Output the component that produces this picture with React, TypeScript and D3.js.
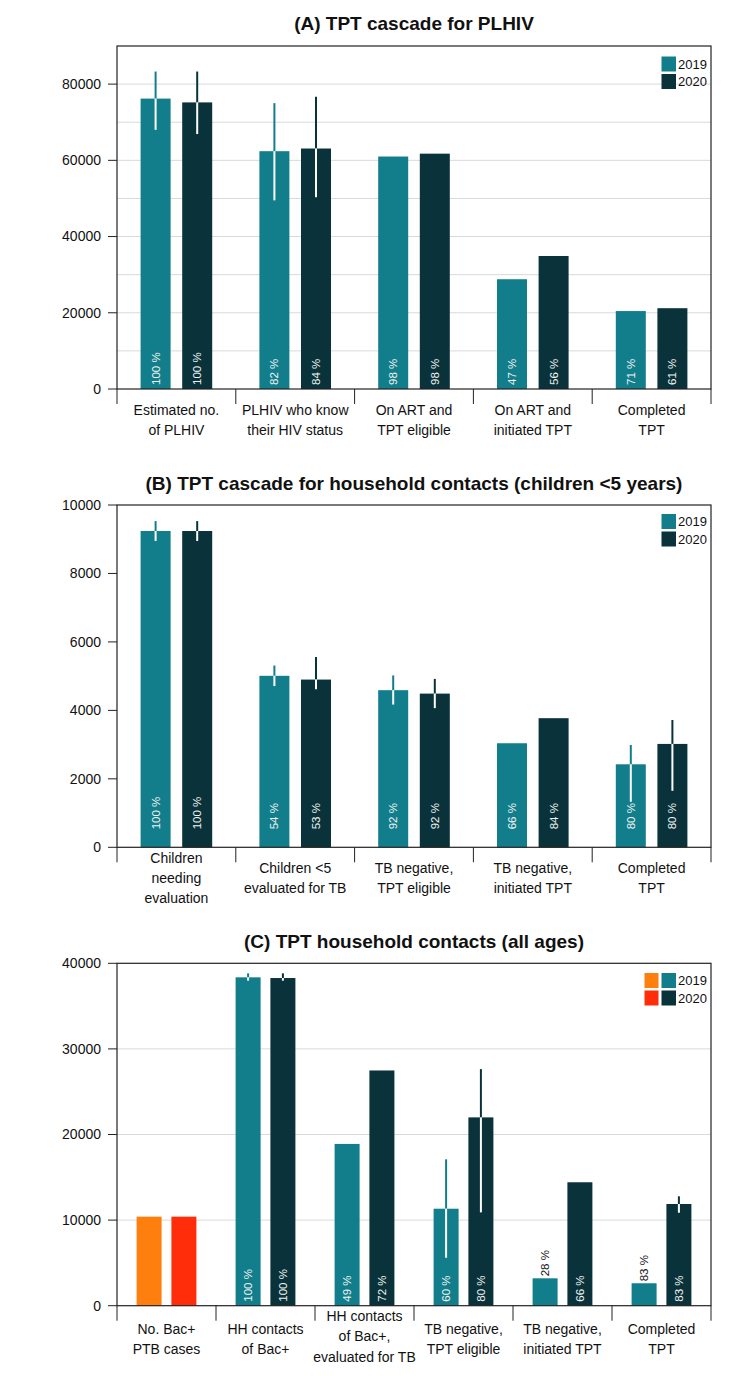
import React from "react";
import * as d3 from "d3";

// ---------- Colours ----------
const C2019 = "#127e8b";
const C2020 = "#09323a";
const CORANGE = "#ff7f0e";
const CRED = "#ff2d0a";

// ---------- Panel A data ----------
const titleA = "(A) TPT cascade for PLHIV";
const catsA = ["Estimated no.|of PLHIV", "PLHIV who know|their HIV status", "On ART and|TPT eligible", "On ART and|initiated TPT", "Completed|TPT"];
const valsA2019 = [76200, 62400, 61000, 28800, 20450];
const valsA2020 = [75200, 63100, 61750, 34900, 21200];
const errA2019: ([number, number] | null)[] = [[68000, 83300], [49500, 75000], null, null, null];
const errA2020: ([number, number] | null)[] = [[66900, 83300], [50300, 76700], null, null, null];
const pctA2019 = ["100 %", "82 %", "98 %", "47 %", "71 %"];
const pctA2020 = ["100 %", "84 %", "98 %", "56 %", "61 %"];
const ticksA = [0, 20000, 40000, 60000, 80000];
const gridA = [10000, 20000, 30000, 40000, 50000, 60000, 70000, 80000];

// ---------- Panel B data ----------
const titleB = "(B) TPT cascade for household contacts (children <5 years)";
const catsB = ["Children|needing|evaluation", "Children <5|evaluated for TB", "TB negative,|TPT eligible", "TB negative,|initiated TPT", "Completed|TPT"];
const valsB2019 = [9240, 5010, 4590, 3040, 2425];
const valsB2020 = [9240, 4900, 4490, 3772, 3020];
const errB2019: ([number, number] | null)[] = [[8950, 9530], [4710, 5310], [4170, 5020], null, [1330, 2990]];
const errB2020: ([number, number] | null)[] = [[8950, 9530], [4620, 5560], [4065, 4920], null, [1650, 3720]];
const pctB2019 = ["100 %", "54 %", "92 %", "66 %", "80 %"];
const pctB2020 = ["100 %", "53 %", "92 %", "84 %", "80 %"];
const ticksB = [0, 2000, 4000, 6000, 8000, 10000];
const gridB: number[] = [];

// ---------- Panel C data ----------
const titleC = "(C) TPT household contacts (all ages)";
const catsC = ["No. Bac+|PTB cases", "HH contacts|of Bac+", "HH contacts|of Bac+,|evaluated for TB", "TB negative,|TPT eligible", "TB negative,|initiated TPT", "Completed|TPT"];
const valsC2019 = [10400, 38360, 18900, 11330, 3200, 2620];
const valsC2020 = [10400, 38280, 27480, 22000, 14420, 11880];
const errC2019: ([number, number] | null)[] = [null, [37970, 38830], null, [5600, 17100], null, null];
const errC2020: ([number, number] | null)[] = [null, [37970, 38830], null, [10900, 27640], null, [10860, 12780]];
const pctC2019: (string | null)[] = [null, "100 %", "49 %", "60 %", "28 %", "83 %"];
const pctC2020: (string | null)[] = [null, "100 %", "72 %", "80 %", "66 %", "83 %"];
const ticksC = [0, 10000, 20000, 30000, 40000];
const gridC = [10000, 20000, 30000];
const colsC2019 = [CORANGE, C2019, C2019, C2019, C2019, C2019];
const colsC2020 = [CRED, C2020, C2020, C2020, C2020, C2020];

const legendYears = ["2019", "2020"];

const FONT = "'Liberation Sans', Arial, sans-serif";

type PanelProps = {
  title: string;
  cats: string[];
  v19: number[];
  v20: number[];
  e19: ([number, number] | null)[];
  e20: ([number, number] | null)[];
  p19: (string | null)[];
  p20: (string | null)[];
  col19: string[];
  col20: string[];
  ticks: number[];
  grid: number[];
  yMax: number;
  top: number;
  bottom: number;
  barW: number;
  barOff: number;
  pctOff: number;
  lab2: number[];
  lab3: number[];
  titleY: number;
  legendY: number;
  legendExtra?: string[];
};

const X0 = 117;
const X1 = 711;

function Panel(p: PanelProps) {
  const x = d3.scaleBand<number>().domain(p.cats.map((_, i) => i)).range([X0, X1]).padding(0);
  const y = d3.scaleLinear().domain([0, p.yMax]).range([p.bottom, p.top]);
  const bw = x.bandwidth();
  const bounds = d3.range(p.cats.length + 1).map((i) => X0 + i * bw);

  const bar = (i: number, val: number, err: [number, number] | null, pct: string | null, color: string, dx: number, key: string) => {
    const cx = (x(i) as number) + bw / 2 + dx;
    const yt = y(val);
    const h = p.bottom - yt;
    const inside = h > 35;
    return (
      <g key={key}>
        <rect x={cx - p.barW / 2} y={yt} width={p.barW} height={h} fill={color} />
        {err && (
          <g>
            {err[1] > val && <line x1={cx} x2={cx} y1={y(err[1])} y2={yt} stroke={color} strokeWidth={2} />}
            <line x1={cx} x2={cx} y1={yt} y2={y(Math.min(err[0], val))} stroke="#ffffff" strokeWidth={2} />
          </g>
        )}
        {pct && (
          <text
            transform={`translate(${cx},${inside ? p.bottom - p.pctOff : yt - 2}) rotate(-90)`}
            textAnchor="start"
            dy="0.35em"
            fontSize={11.5}
            fill={inside ? "#f2f2f2" : "#111"}
            fontFamily={FONT}
          >
            {pct}
          </text>
        )}
      </g>
    );
  };

  return (
    <g>
      <text x={(X0 + X1) / 2} y={p.titleY} textAnchor="middle" fontSize={19} fontWeight="bold" fontFamily={FONT} fill="#111">
        {p.title}
      </text>
      {p.grid.map((g) => (
        <line key={"g" + g} x1={X0} x2={X1} y1={y(g)} y2={y(g)} stroke="#d9d9d9" strokeWidth={1} />
      ))}
      {p.cats.map((_, i) => bar(i, p.v19[i], p.e19[i], p.p19[i], p.col19[i], -p.barOff, "a" + i))}
      {p.cats.map((_, i) => bar(i, p.v20[i], p.e20[i], p.p20[i], p.col20[i], p.barOff, "b" + i))}
      {/* box */}
      <rect x={X0} y={p.top} width={X1 - X0} height={p.bottom - p.top} fill="none" stroke="#222" strokeWidth={1.2} />
      {/* y ticks */}
      {p.ticks.map((t) => (
        <g key={"t" + t}>
          <line x1={X0 - 9} x2={X0} y1={y(t)} y2={y(t)} stroke="#222" strokeWidth={1} />
          <text x={101} y={y(t)} dy="0.35em" textAnchor="end" fontSize={14} fontFamily={FONT} fill="#111">
            {t}
          </text>
        </g>
      ))}
      {/* x ticks */}
      {bounds.map((b, i) => (
        <line key={"xb" + i} x1={b} x2={b} y1={p.bottom} y2={p.bottom + 15} stroke="#222" strokeWidth={1} />
      ))}
      {p.cats.map((c, i) => {
        const lines = c.split("|");
        const offs = lines.length === 3 ? p.lab3 : p.lab2;
        const cx = (x(i) as number) + bw / 2;
        return (
          <text key={"xl" + i} textAnchor="middle" fontSize={14} fontFamily={FONT} fill="#111">
            {lines.map((l, j) => (
              <tspan key={j} x={cx} y={p.bottom + offs[j]}>
                {l}
              </tspan>
            ))}
          </text>
        );
      })}
      {/* legend */}
      {legendYears.map((yr, j) => (
        <g key={"lg" + yr}>
          {p.legendExtra && <rect x={644.5} y={p.legendY + j * 17.5} width={14} height={15} fill={p.legendExtra[j]} />}
          <rect x={661.5} y={p.legendY + j * 17.5} width={14.5} height={15} fill={j === 0 ? C2019 : C2020} />
          <text x={678} y={p.legendY + j * 17.5 + 7.5} dy="0.35em" fontSize={13} fontFamily={FONT} fill="#111">
            {yr}
          </text>
        </g>
      ))}
    </g>
  );
}

export default function App() {
  const c19 = catsA.map(() => C2019);
  const c20 = catsA.map(() => C2020);
  return (
    <div style={{ position: "absolute", left: 0, top: 0, width: 734, height: 1376, background: "#fff" }}>
      <svg width={734} height={1376} style={{ display: "block" }}>
        <rect width={734} height={1376} fill="#fff" />
        <Panel
          title={titleA} cats={catsA} v19={valsA2019} v20={valsA2020} e19={errA2019} e20={errA2020}
          p19={pctA2019} p20={pctA2020} col19={c19} col20={c20} ticks={ticksA} grid={gridA}
          yMax={90000} top={46} bottom={389} barW={30} barOff={20.8} pctOff={4}
          lab2={[26, 46]} lab3={[16, 36, 56]} titleY={30} legendY={56.5}
        />
        <Panel
          title={titleB} cats={catsB} v19={valsB2019} v20={valsB2020} e19={errB2019} e20={errB2020}
          p19={pctB2019} p20={pctB2020} col19={c19} col20={c20} ticks={ticksB} grid={gridB}
          yMax={10000} top={505} bottom={847.3} barW={30} barOff={20.8} pctOff={18}
          lab2={[26, 46]} lab3={[16, 36, 56]} titleY={490} legendY={514}
        />
        <Panel
          title={titleC} cats={catsC} v19={valsC2019} v20={valsC2020} e19={errC2019} e20={errC2020}
          p19={pctC2019} p20={pctC2020} col19={colsC2019} col20={colsC2020} ticks={ticksC} grid={gridC}
          yMax={40000} top={963.3} bottom={1305.7} barW={25} barOff={17.4} pctOff={4}
          lab2={[28, 48]} lab3={[15, 35.5, 56]} titleY={948} legendY={973}
          legendExtra={[CORANGE, CRED]}
        />
      </svg>
    </div>
  );
}
